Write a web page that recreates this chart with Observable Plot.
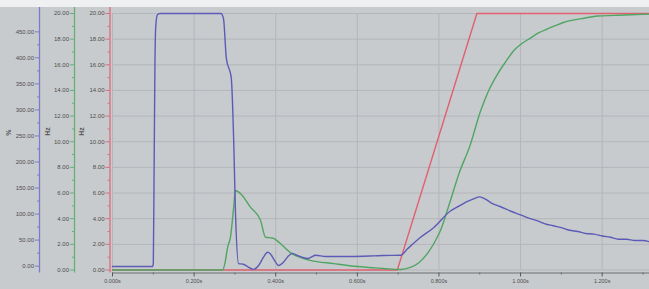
<!DOCTYPE html>
<html>
<head>
<meta charset="utf-8">
<script src="https://cdn.jsdelivr.net/npm/d3@7"></script>
<script src="https://cdn.jsdelivr.net/npm/@observablehq/plot@0.6"></script>
<style>
  html, body { margin: 0; padding: 0; background: #c8cbce; }
  svg { display: block; }
</style>
</head>
<body>
<div id="chart"></div>
<script>
// ---- data (time in s, values in Hz-axis units 0..20) ----
const blueT = [0, 0.098, 0.100, 0.102, 0.104, 0.106, 0.110, 0.116, 0.200, 0.266, 0.272, 0.279, 0.291, 0.297, 0.301, 0.309,
  0.321, 0.331, 0.346, 0.358, 0.370, 0.380, 0.387, 0.397, 0.407, 0.419, 0.430, 0.441, 0.456, 0.478, 0.498, 0.522, 0.583,
  0.640, 0.664, 0.706, 0.723, 0.755, 0.787, 0.828, 0.850, 0.870, 0.885, 0.900, 0.915, 0.930, 0.950, 0.975, 1.000, 1.020,
  1.040, 1.060, 1.080, 1.100, 1.120, 1.140, 1.160, 1.180, 1.200, 1.220, 1.240, 1.260, 1.280, 1.300, 1.316];
const blueV = [0.27, 0.27, 0.5, 8.0, 16.0, 19.0, 19.9, 20.0, 20.0, 20.0, 19.6, 16.5, 15.0, 10.1, 4.9, 0.5,
  0.45, 0.27, 0.05, 0.35, 1.0, 1.38, 1.25, 0.75, 0.35, 0.6, 1.05, 1.3, 1.1, 0.9, 1.15, 1.05, 1.05,
  1.1, 1.13, 1.15, 1.65, 2.55, 3.3, 4.6, 5.0, 5.35, 5.55, 5.7, 5.5, 5.2, 4.95, 4.6, 4.3, 4.05,
  3.85, 3.6, 3.45, 3.3, 3.1, 3.0, 2.85, 2.8, 2.65, 2.55, 2.4, 2.4, 2.3, 2.3, 2.2];

const greenT = [0, 0.270, 0.276, 0.282, 0.289, 0.297, 0.301, 0.314, 0.338, 0.363, 0.375, 0.392, 0.412, 0.436, 0.485,
  0.542, 0.600, 0.664, 0.706, 0.730, 0.750, 0.772, 0.790, 0.804, 0.828, 0.850, 0.875, 0.902, 0.922, 0.944, 0.965, 0.983,
  1.005, 1.025, 1.045, 1.066, 1.085, 1.105, 1.150, 1.189, 1.230, 1.270, 1.316];
const greenV = [0, 0, 0.6, 1.75, 2.55, 4.9, 6.2, 5.95, 4.9, 3.85, 2.55, 2.5, 2.05, 1.35, 0.75,
  0.5, 0.27, 0.12, 0.04, 0.2, 0.55, 1.3, 2.2, 3.1, 5.4, 7.6, 9.6, 12.4, 14.0, 15.3, 16.3, 17.1,
  17.7, 18.1, 18.5, 18.8, 19.05, 19.3, 19.6, 19.8, 19.85, 19.9, 19.95];

const redT = [0, 0.698, 0.893, 1.316];
const redV = [0, 0, 20, 20];

// tick labels
const xMajor = [0, 0.2, 0.4, 0.6, 0.8, 1.0, 1.2];
const xMinor = [0.1, 0.3, 0.5, 0.7, 0.9, 1.1, 1.3];
const hzMajor = [0, 2, 4, 6, 8, 10, 12, 14, 16, 18, 20];
const hzMinor = [1, 3, 5, 7, 9, 11, 13, 15, 17, 19];
const pctMajor = [0, 50, 100, 150, 200, 250, 300, 350, 400, 450];
const pctMinor = [25, 75, 125, 175, 225, 275, 325, 375, 425];
const unitLabels = ["%", "Hz", "Hz"];

// ---- build ----
const rows = (T, V) => T.map((t, i) => ({t, v: V[i]}));
const blue = rows(blueT, blueV), green = rows(greenT, greenV), red = rows(redT, redV);

// secondary (%) axis mapped into the Hz-unit y scale
const pct = d3.scaleLinear().domain([0, 500]).range([0.3, 20.6]);

const C = {blue: "#5b5bb6", green: "#4fa563", red: "#e0606f",
  blueAx: "#7b7bcc", greenAx: "#63b274", redAx: "#e2687a",
  grid: "#b3b6ba", text: "#4d4d4d"};
const fs = 6;

const chart = Plot.plot({
  width: 649, height: 289,
  marginLeft: 112, marginRight: 0, marginTop: 13, marginBottom: 19.5,
  style: {background: "linear-gradient(#eef0f1 0 7px, #c8cbce 7px)", fontFamily: "Liberation Sans, Arial, sans-serif"},
  x: {domain: [0, 1.316], label: null},
  y: {domain: [0, 20], label: null},
  marks: [
    Plot.gridX(xMajor, {stroke: C.grid, strokeOpacity: 1}),
    Plot.gridY(hzMajor, {stroke: C.grid, strokeOpacity: 1}),
    // x axis
    Plot.ruleY([0], {dy: 3, stroke: "#6d6d6d"}),
    Plot.axisX({ticks: xMajor, tickFormat: d => d.toFixed(3) + "s", tickSize: 4, tickPadding: 2.5, dy: 3,
      stroke: "#555", fill: C.text, fontSize: 5.5}),
    Plot.axisX({ticks: xMinor, tickFormat: () => "", tickSize: 2, dy: 3, stroke: "#666"}),
    // red Hz axis
    Plot.ruleX([0], {dx: -2.5, stroke: C.redAx, strokeWidth: 1.3, insetTop: -6, insetBottom: -3}),
    Plot.axisY({anchor: "left", ticks: hzMajor, tickFormat: d => d.toFixed(2), tickSize: 4, tickPadding: 1.5,
      dx: -2.5, stroke: C.redAx, fill: C.text, fontSize: fs}),
    Plot.axisY({anchor: "left", ticks: hzMinor, tickFormat: () => "", tickSize: 2, dx: -2.5, stroke: C.redAx}),
    // green Hz axis
    Plot.ruleX([0], {dx: -38, stroke: C.greenAx, strokeWidth: 1.3, insetTop: -6, insetBottom: -3}),
    Plot.axisY({anchor: "left", ticks: hzMajor, tickFormat: d => d.toFixed(2), tickSize: 4, tickPadding: 1.5,
      dx: -38, stroke: C.greenAx, fill: C.text, fontSize: fs}),
    Plot.axisY({anchor: "left", ticks: hzMinor, tickFormat: () => "", tickSize: 2, dx: -38, stroke: C.greenAx}),
    // blue % axis
    Plot.ruleX([0], {dx: -73, stroke: C.blueAx, strokeWidth: 1.3, insetTop: -6, insetBottom: -3}),
    Plot.axisY({anchor: "left", ticks: pctMajor.map(pct), tickFormat: u => pct.invert(u).toFixed(2), tickSize: 4,
      tickPadding: 1.5, dx: -73, stroke: C.blueAx, fill: C.text, fontSize: fs}),
    Plot.axisY({anchor: "left", ticks: pctMinor.map(pct), tickFormat: () => "", tickSize: 2, dx: -73, stroke: C.blueAx}),
    // unit labels
    Plot.text([unitLabels[0]], {frameAnchor: "left", dx: -104, dy: -6, rotate: -90, fontSize: 7, fontWeight: "bold", fill: "#555"}),
    Plot.text([unitLabels[1]], {frameAnchor: "left", dx: -65, dy: -6, rotate: -90, fontSize: 7, fontWeight: "bold", fill: "#555"}),
    Plot.text([unitLabels[2]], {frameAnchor: "left", dx: -31, dy: -6, rotate: -90, fontSize: 7, fontWeight: "bold", fill: "#555"}),
    // series
    Plot.line(red, {x: "t", y: "v", stroke: C.red, strokeWidth: 1.4}),
    Plot.line(green, {x: "t", y: "v", stroke: C.green, strokeWidth: 1.4, curve: "monotone-x"}),
    Plot.line(blue, {x: "t", y: "v", stroke: C.blue, strokeWidth: 1.4, curve: "monotone-x"})
  ]
});
document.getElementById("chart").append(chart);
</script>
</body>
</html>
